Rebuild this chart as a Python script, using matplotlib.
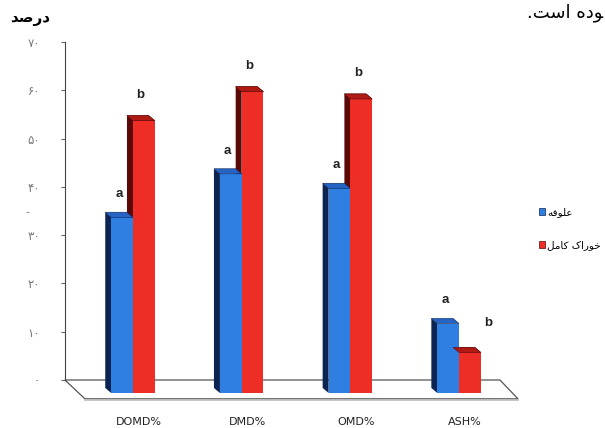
import matplotlib
matplotlib.use('Agg')
import matplotlib.pyplot as plt
from matplotlib.patches import Polygon

# data
categories = ['DOMD%', 'DMD%', 'OMD%', 'ASH%']
forage = [35, 44, 41, 13]              # علوفه
complete_feed = [55, 61, 59.5, 7]      # خوراک کامل
forage_letters = ['a', 'a', 'a', 'a']
feed_letters = ['b', 'b', 'b', 'b']
yticks = [0, 10, 20, 30, 40, 50, 60, 70]

# Persian text written in presentation forms, visual order
label_forage = '\uFEEA\uFED3\uFEEE\uFEE0\uFECB'                       # علوفه
label_feed = '\uFEDE\uFEE3\uFE8E\uFB90 \uFB8E\uFE8D\uFEAD\uFEEE\uFEA7'  # خوراک کامل
y_title = '\uFEAA\uFEBB\uFEAD\uFEA9'                                   # درصد
top_text = '.\uFE96\uFEB3\uFE8D \uFEE9\uFEA9\uFEEE'                    # وده است.


def fa_num(n):
    return ''.join(chr(0x06F0 + int(c)) for c in str(n))


# fake 3d settings
w = 0.2
base = -2.7
shift = -1.3
dx, dy = -0.055, 1.05

blue_f, blue_s, blue_t = '#2f7fe3', '#0b2452', '#2563c4'
red_f, red_s, red_t = '#ee2e26', '#5a0907', '#b01a15'

fig = plt.figure(figsize=(6.05, 4.28), dpi=100)
ax = fig.add_axes([0.094, 0.0614, 0.7726, 0.8404])
ax.set_xlim(-0.7, 3.6)
ax.set_ylim(-4.5, 70)

# floor
x_axis = -0.626
floor = Polygon([(x_axis, 0), (3.376, 0), (3.542, -3.9), (-0.442, -3.9)],
                closed=True, facecolor='white', edgecolor='#555555', lw=0.9, zorder=1)
ax.add_patch(floor)
ax.plot([-0.442, 3.542], [-4.15, -4.15], color='#bbbbbb', lw=1.2, zorder=1)


def bar3d(x0, v, front, side, top, z):
    t = v + shift
    ax.bar(x0, t - base, bottom=base, width=w, align='edge', color=front, zorder=z + 1)
    ax.add_patch(Polygon([(x0, base), (x0, t), (x0 + dx, t + dy), (x0 + dx, base + dy)],
                         facecolor=side, edgecolor='none', zorder=z))
    ax.add_patch(Polygon([(x0, t), (x0 + w, t), (x0 + w + dx, t + dy), (x0 + dx, t + dy)],
                         facecolor=top, edgecolor=side, lw=0.4, zorder=z + 1))


letter_font = dict(ha='center', va='center', fontsize=9.5, family='Liberation Sans',
                   fontweight='bold', color='#222222', zorder=8)

for i in range(len(categories)):
    bar3d(i, complete_feed[i], red_f, red_s, red_t, 2)
    bar3d(i - w, forage[i], blue_f, blue_s, blue_t, 4)
    ax.bar(i, complete_feed[i] + shift - base, bottom=base, width=w, align='edge',
           color=red_f, zorder=6)
    ax.add_patch(Polygon([(i, complete_feed[i] + shift), (i + w, complete_feed[i] + shift),
                          (i + w + dx, complete_feed[i] + shift + dy),
                          (i + dx, complete_feed[i] + shift + dy)],
                         facecolor=red_t, edgecolor=red_s, lw=0.4, zorder=6))
    ax.text(i - w / 2 - 0.03, forage[i] + 3.5, forage_letters[i], **letter_font)
    if complete_feed[i] < forage[i]:
        ax.text(i + w / 2 + 0.17, complete_feed[i] + 4.8, feed_letters[i], **letter_font)
    else:
        ax.text(i + w / 2 - 0.03, complete_feed[i] + 4.0, feed_letters[i], **letter_font)

# axes styling
for s in ['top', 'right', 'bottom']:
    ax.spines[s].set_visible(False)
ax.spines['left'].set_position(('data', x_axis))
ax.spines['left'].set_bounds(0, 70)
ax.spines['left'].set_color('#444444')
ax.set_yticks(yticks)
ax.set_yticklabels([fa_num(v) for v in yticks], color='#777777', fontsize=8.5)
ax.tick_params(axis='y', length=3, color='#666666', pad=15)
ax.set_xticks([i + 0.05 for i in range(len(categories))])
ax.set_xticklabels(categories, fontsize=8, color='#222222')
ax.tick_params(axis='x', length=0, pad=11)

ax.legend(handles=[plt.Rectangle((0, 0), 1, 1, fc=blue_f, ec='#0b2452', lw=0.5),
                   plt.Rectangle((0, 0), 1, 1, fc=red_f, ec='#5a0907', lw=0.5)],
          labels=[label_forage, label_feed], loc='upper left',
          bbox_to_anchor=(534 / 605, 1 - 202 / 428), bbox_transform=fig.transFigure,
          frameon=False, fontsize=7.5, handlelength=0.6, handleheight=0.6,
          handletextpad=0.15, labelspacing=2.2, borderpad=0)

fig.text(30 / 605, 1 - 18 / 428, y_title, ha='center', va='center', fontsize=11,
         fontweight='bold')
fig.text(27 / 605, 1 - 212 / 428, '-', ha='center', va='center', fontsize=8, color='#777777')
fig.text(603 / 605, 1 - 17 / 428, top_text, ha='right', va='baseline', fontsize=13)

fig.savefig('out.png', dpi=100)
